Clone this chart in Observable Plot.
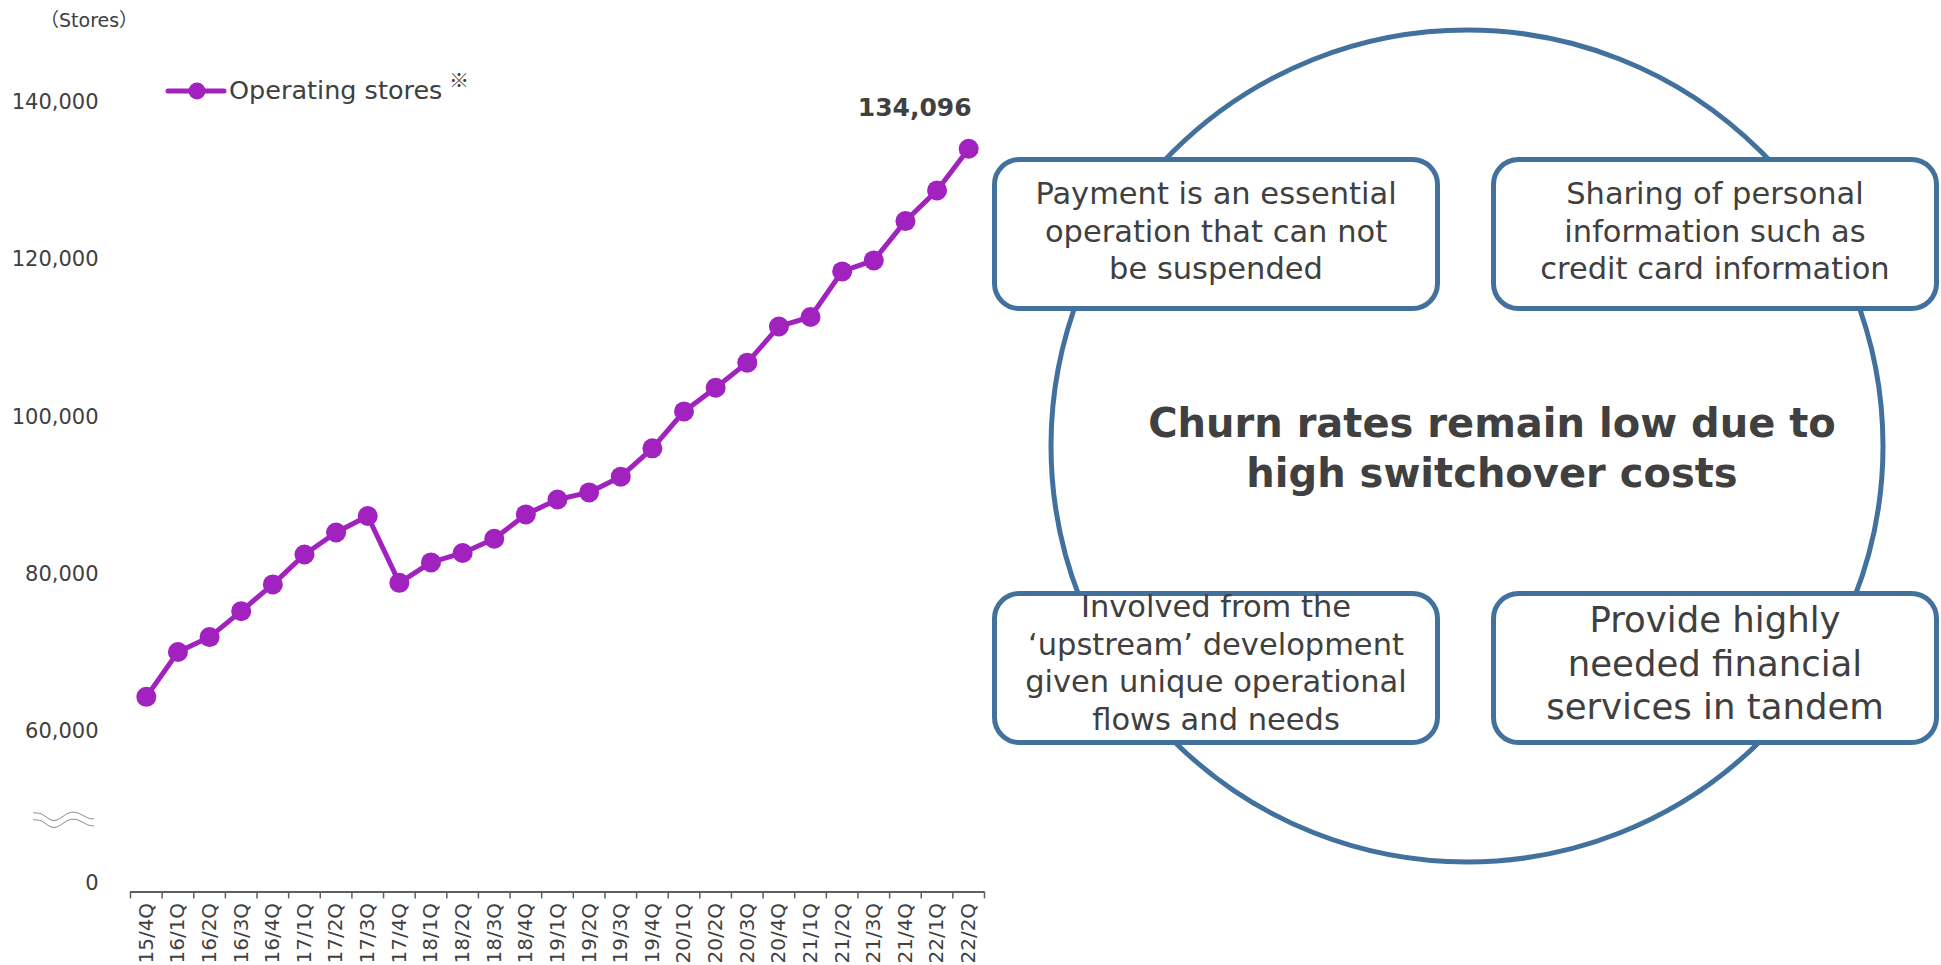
<!DOCTYPE html>
<html>
<head>
<meta charset="utf-8">
<script src="https://cdn.jsdelivr.net/npm/d3@7"></script>
<script src="https://cdn.jsdelivr.net/npm/@observablehq/plot@0.6"></script>
<style>
  body { margin: 0; background: #fff; }
  #page { position: relative; width: 1941px; height: 965px; overflow: hidden; font-family: "DejaVu Sans", "Noto Sans CJK JP", sans-serif; color: #404040; }
  #chart { position: absolute; left: 0; top: 0; }
  #overlay { position: absolute; left: 0; top: 0; pointer-events: none; }
</style>
</head>
<body>
<div id="page">
  <div id="chart"></div>
  <svg id="overlay" width="1941" height="965"></svg>
</div>
<script>
// Quarter-end operating store counts
const quarters = [
  "15/4Q", "16/1Q", "16/2Q", "16/3Q", "16/4Q",
  "17/1Q", "17/2Q", "17/3Q", "17/4Q",
  "18/1Q", "18/2Q", "18/3Q", "18/4Q",
  "19/1Q", "19/2Q", "19/3Q", "19/4Q",
  "20/1Q", "20/2Q", "20/3Q", "20/4Q",
  "21/1Q", "21/2Q", "21/3Q", "21/4Q",
  "22/1Q", "22/2Q"
];
const stores = [
  64400, 70100, 72000, 75300, 78700,
  82500, 85300, 87400, 78900,
  81500, 82700, 84500, 87600,
  89500, 90400, 92400, 96000,
  100700, 103700, 106900, 111500,
  112700, 118500, 119900, 124900,
  128800, 134096
];
const yTicks = [60000, 80000, 100000, 120000, 140000];
const seriesName = "Operating stores";
const unitLabel = "（Stores）";

// Diagram texts
const centerLines = ["Churn rates remain low due to", "high switchover costs"];
const boxTexts = [
  ["Payment is an essential", "operation that can not", "be suspended"],
  ["Sharing of personal", "information such as", "credit card information"],
  ["Involved from the", "\u2018upstream\u2019 development", "given unique operational", "flows and needs"],
  ["Provide highly", "needed financial", "services in tandem"]
];

const PURPLE = "#A122BF";
const BLUE = "#41719C";
const INK = "#404040";
const AXIS = "#5f5f5f";

// The value axis is broken: the frame floor stands for 0
const yFloor = 39600;
const fmt = d3.format(",");

const data = quarters.map((q, i) => ({i, q, v: stores[i]}));

const chart = Plot.plot({
  width: 1000,
  height: 965,
  marginLeft: 130,
  marginRight: 16,
  marginTop: 62.5,
  marginBottom: 73.6,
  style: {fontFamily: "DejaVu Sans", color: INK, background: "transparent", overflow: "visible"},
  x: {type: "linear", domain: [-0.5, quarters.length - 0.5], axis: null},
  y: {domain: [yFloor, 145000], axis: null},
  marks: [
    Plot.axisY({ticks: yTicks, tickSize: 0, tickPadding: 32, fontSize: 21, tickFormat: fmt, fill: INK, label: null}),
    Plot.text(["0"], {frameAnchor: "bottom-left", dx: -32, dy: -9, textAnchor: "end", lineAnchor: "middle", fontSize: 21, fill: INK}),
    Plot.ruleY([yFloor], {stroke: AXIS, strokeWidth: 2}),
    Plot.axisX({ticks: d3.range(-0.5, quarters.length, 1), tickSize: 7, tickFormat: () => "", stroke: AXIS, strokeWidth: 1.5, label: null}),
    Plot.axisX({ticks: d3.range(quarters.length), tickSize: 0, tickPadding: 11, tickRotate: -90,
      tickFormat: i => quarters[i], fontSize: 20, fill: INK, label: null}),
    Plot.line(data, {x: "i", y: "v", stroke: PURPLE, strokeWidth: 5}),
    Plot.dot(data, {x: "i", y: "v", r: 10, fill: PURPLE}),
    Plot.text(data.slice(-1), {x: "i", y: "v", text: d => fmt(d.v), dx: -54, dy: -33,
      lineAnchor: "bottom", fontSize: 25, fontWeight: "bold", fill: INK})
  ]
});
document.getElementById("chart").appendChild(chart);

// Axis break marker between 0 and 60,000
{
  const svg = d3.select(chart);
  const yb = chart.scale("y").apply(48700);
  const wave = d3.line().curve(d3.curveBasis);
  for (const off of [-4, 3]) {
    const pts = [[33, 0], [42, 0], [50, 8], [58, 8], [68, -1], [78, -1], [88, 6], [94, 6]]
      .map(([x, y]) => [x, yb + off + y - 3]);
    svg.append("path").attr("d", wave(pts)).attr("fill", "none")
      .attr("stroke", "#8a8a8a").attr("stroke-width", 1);
  }
}

// Legend, unit label and the switching-cost diagram
const ov = d3.select("#overlay");

ov.append("text").attr("x", 40).attr("y", 27).attr("font-size", 19).attr("fill", INK)
  .attr("font-family", "DejaVu Sans, Noto Sans CJK JP").text(unitLabel);

ov.append("line").attr("x1", 168).attr("x2", 224).attr("y1", 91).attr("y2", 91)
  .attr("stroke", PURPLE).attr("stroke-width", 5).attr("stroke-linecap", "round");
ov.append("circle").attr("cx", 197).attr("cy", 91).attr("r", 8.5).attr("fill", PURPLE);
ov.append("text").attr("x", 229).attr("y", 99).attr("font-size", 25.5).attr("fill", INK)
  .attr("font-family", "DejaVu Sans").text(seriesName);
ov.append("text").attr("x", 449).attr("y", 88).attr("font-size", 20).attr("fill", INK)
  .attr("font-family", "Noto Sans CJK JP").text("※");

ov.append("circle").attr("cx", 1467).attr("cy", 446).attr("r", 416)
  .attr("fill", "none").attr("stroke", BLUE).attr("stroke-width", 5);

const boxes = [
  {x: 994.5, y: 159.5, size: 30.5, lh: 37.7, base: 204},
  {x: 1493.5, y: 159.5, size: 30.5, lh: 37.7, base: 204},
  {x: 994.5, y: 593.5, size: 30.5, lh: 37.6, base: 617},
  {x: 1493.5, y: 593.5, size: 35.5, lh: 43.5, base: 632}
];
boxes.forEach((b, k) => {
  ov.append("rect").attr("x", b.x).attr("y", b.y).attr("width", 443).attr("height", 149)
    .attr("rx", 25).attr("fill", "#fff").attr("stroke", BLUE).attr("stroke-width", 5);
  const t = ov.append("text").attr("text-anchor", "middle").attr("font-size", b.size)
    .attr("fill", INK).attr("font-family", "DejaVu Sans");
  boxTexts[k].forEach((line, j) => {
    t.append("tspan").attr("x", b.x + 221.5).attr("y", b.base + j * b.lh).text(line);
  });
});

const ct = ov.append("text").attr("text-anchor", "middle").attr("font-size", 40)
  .attr("font-weight", "bold").attr("fill", INK).attr("font-family", "DejaVu Sans");
centerLines.forEach((line, j) => {
  ct.append("tspan").attr("x", 1492).attr("y", 437 + j * 50).text(line);
});
</script>
</body>
</html>
